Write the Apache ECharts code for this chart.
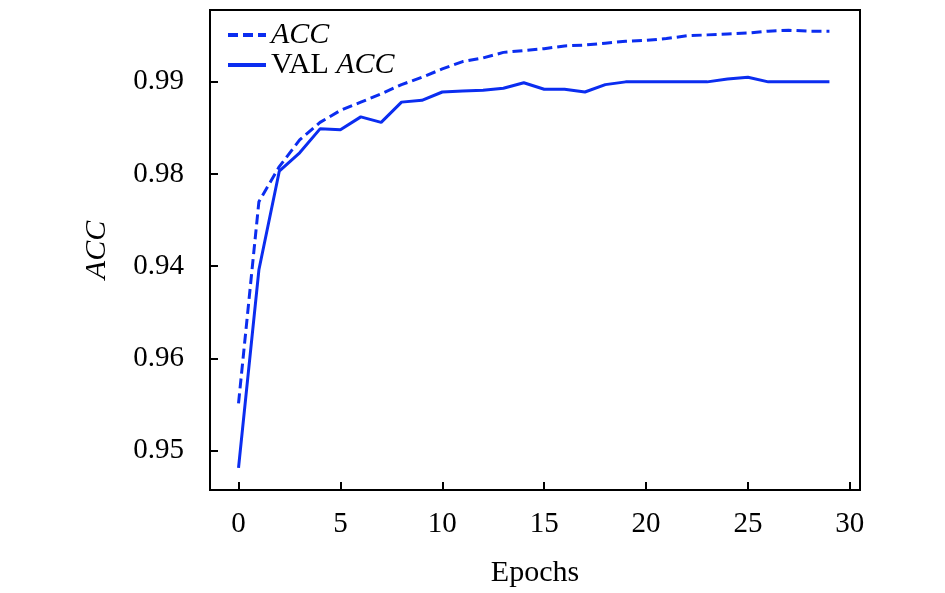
<!DOCTYPE html>
<html>
<head>
<meta charset="utf-8">
<script src="https://cdn.jsdelivr.net/npm/echarts@6/dist/echarts.min.js"></script>
<style>
  html, body { margin: 0; padding: 0; background: #fff; }
  #chart { width: 945px; height: 593px; }
</style>
</head>
<body>
<div id="chart"></div>
<script>
'use strict';

var epochs = [];
for (var e = 0; e < 30; e++) { epochs.push(e); }

// training accuracy (dashed)
var acc = [0.9551, 0.9770, 0.9808, 0.9837, 0.9856, 0.9869, 0.9878, 0.9887, 0.9897, 0.9905,
           0.9914, 0.9922, 0.9926, 0.9932, 0.9934, 0.9936, 0.9939, 0.9940, 0.9942, 0.9944,
           0.9945, 0.9947, 0.9950, 0.9951, 0.9952, 0.9953, 0.9955, 0.9956, 0.9955, 0.9955];
// validation accuracy (solid)
var valAcc = [0.9481, 0.9696, 0.9803, 0.9823, 0.9849, 0.9848, 0.9862, 0.9856, 0.9878, 0.9880,
              0.9889, 0.9890, 0.9891, 0.9893, 0.9899, 0.9892, 0.9892, 0.9889, 0.9897, 0.9900,
              0.9900, 0.9900, 0.9900, 0.9900, 0.9903, 0.9905, 0.9900, 0.9900, 0.9900, 0.9900];

var xTicks = [0, 5, 10, 15, 20, 25, 30];
var yTickValues = [0.95, 0.96, 0.97, 0.98, 0.99];
var yTickLabels = ['0.95', '0.96', '0.94', '0.98', '0.99'];

var font = '"Liberation Serif", "Times New Roman", serif';
var blue = '#0b2df0';

function pairs(ys) {
    var out = [];
    for (var i = 0; i < ys.length; i++) { out.push([epochs[i], ys[i]]); }
    return out;
}

var chart = echarts.init(document.getElementById('chart'));
chart.setOption({
    backgroundColor: '#fff',
    animation: false,
    grid: {
        left: 210, right: 85, top: 10, bottom: 103,
        show: true, borderColor: '#000', borderWidth: 2
    },
    legend: {
        orient: 'vertical',
        left: 221, top: 15,
        itemWidth: 38, itemHeight: 14, itemGap: 0,
        itemStyle: { opacity: 0 },
        lineStyle: { width: 4 },
        textStyle: {
            fontFamily: font, fontSize: 30, color: '#000', lineHeight: 29,
            rich: {
                i: { fontFamily: font, fontSize: 30, fontStyle: 'italic', color: '#000', lineHeight: 29 },
                n: { fontFamily: font, fontSize: 30, color: '#000', lineHeight: 29 }
            }
        },
        formatter: function (name) {
            if (name === 'VAL ACC') return '{n|VAL }{i|ACC}';
            return '{i|' + name + '}';
        },
        data: ['ACC', 'VAL ACC']
    },
    xAxis: {
        type: 'value',
        min: -1.4, max: 30.5,
        name: 'Epochs',
        nameLocation: 'middle',
        nameGap: 68,
        nameTextStyle: { fontFamily: font, fontSize: 30, color: '#000' },
        axisLine: { onZero: false, lineStyle: { color: '#000', width: 2 } },
        axisTick: { inside: true, length: 8, customValues: xTicks, lineStyle: { color: '#000', width: 2 } },
        axisLabel: { customValues: xTicks, margin: 20, fontFamily: font, fontSize: 29, color: '#000' },
        splitLine: { show: false }
    },
    yAxis: {
        type: 'value',
        min: 0.9457, max: 0.9978,
        name: 'ACC',
        nameLocation: 'middle',
        nameGap: 98,
        nameTextStyle: { fontFamily: font, fontSize: 30, fontStyle: 'italic', color: '#000' },
        axisLine: { onZero: false, lineStyle: { color: '#000', width: 2 } },
        axisTick: { inside: true, length: 8, customValues: yTickValues, lineStyle: { color: '#000', width: 2 } },
        axisLabel: {
            customValues: yTickValues, margin: 26,
            fontFamily: font, fontSize: 29, color: '#000',
            formatter: function (v) {
                for (var i = 0; i < yTickValues.length; i++) {
                    if (Math.abs(yTickValues[i] - v) < 1e-6) return yTickLabels[i];
                }
                return '';
            }
        },
        splitLine: { show: false }
    },
    series: [
        {
            name: 'ACC', type: 'line', data: pairs(acc),
            symbol: 'none', showSymbol: false,
            lineStyle: { color: blue, width: 3, type: [10, 5] },
            itemStyle: { color: blue }
        },
        {
            name: 'VAL ACC', type: 'line', data: pairs(valAcc),
            symbol: 'none', showSymbol: false,
            lineStyle: { color: blue, width: 3, type: 'solid' },
            itemStyle: { color: blue }
        }
    ]
});
</script>
</body>
</html>
